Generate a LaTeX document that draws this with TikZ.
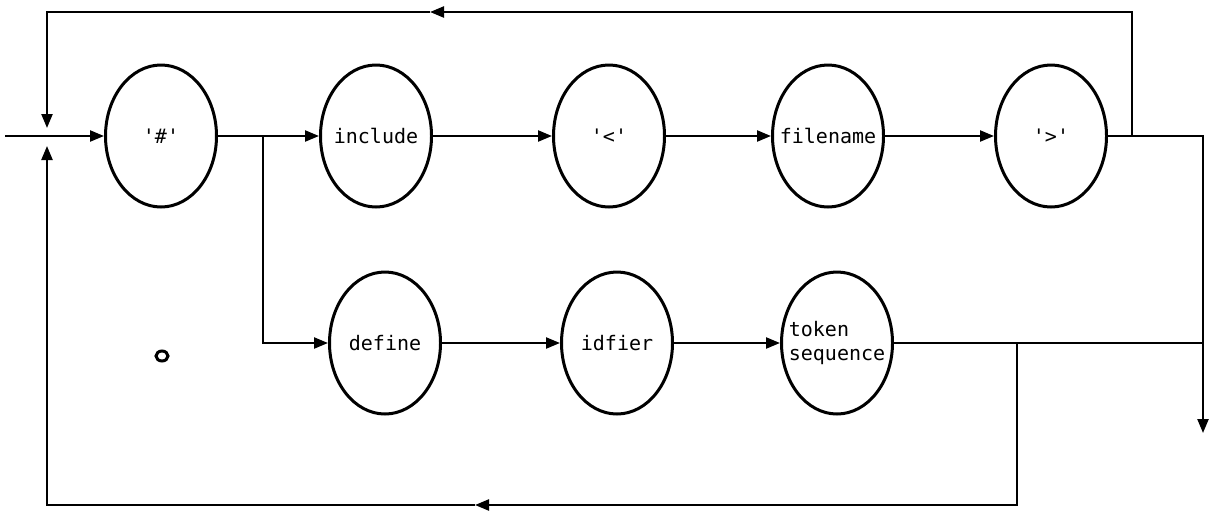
\documentclass[tikz,border=0pt]{standalone}
\usepackage{fontspec}
\newfontfamily\diagfont{DejaVu Sans Mono}
\usetikzlibrary{shapes.geometric,arrows.meta}
\begin{document}
\begin{tikzpicture}[x=1pt,y=-1pt,
  state/.style={draw,ellipse,line width=3pt,minimum width=111pt,minimum height=142pt,inner sep=0pt,
    label={[font=\diagfont\fontsize{20}{24}\selectfont,align=left,inner sep=0pt]center:#1}},
  wire/.style={line width=2.3pt},
  tip/.style={wire,-{Triangle[length=14pt,width=11pt]}}]
\useasboundingbox (0,0) rectangle (1212,512);
% nodes
\node[state={'\#'}] (hash) at (161,136) {};
\node[state={include}] (incl) at (376,136) {};
\node[state={'<'}] (lt)   at (609,136) {};
\node[state={filename}] (fn)   at (828,136) {};
\node[state={'>'}] (gt)   at (1051,136) {};
\node[state={define}] (def)  at (385,343) {};
\node[state={idfier}] (idf)  at (617,343) {};
\node[state={{token\\sequence}}] (tok) at (837,343) {};
% coordinates
\coordinate (in) at (5,136);
\coordinate (jtop) at (47,12);
\coordinate (jtopend) at (47,128);
\coordinate (jbot) at (47,505);
\coordinate (jbotend) at (47,146);
\coordinate (split) at (263,136);
\coordinate (splitdn) at (263,343);
\coordinate (gtout) at (1132,136);
\coordinate (gtup) at (1132,12);
\coordinate (topmid) at (430,12);
\coordinate (rout) at (1203,136);
\coordinate (rend) at (1203,433);
\coordinate (tokout) at (1017,343);
\coordinate (tokdn) at (1017,505);
\coordinate (botmid) at (475,505);
\coordinate (rjoin) at (1203,343);
% main path
\draw[tip] (in) -- (hash.west);
\draw[tip] (hash.east) -- (incl.west);
\draw[tip] (incl.east) -- (lt.west);
\draw[tip] (lt.east) -- (fn.west);
\draw[tip] (fn.east) -- (gt.west);
\draw[tip] (split) -- (splitdn) -- (def.west);
\draw[tip] (def.east) -- (idf.west);
\draw[tip] (idf.east) -- (tok.west);
% exit
\draw[tip] (gt.east) -- (rout) -- (rend);
\draw[wire] (tok.east) -- (rjoin);
% top loop
\draw[tip] (gtout) -- (gtup) -- (topmid);
\draw[tip] (topmid) -- (jtop) -- (jtopend);
% bottom loop
\draw[tip] (tokout) -- (tokdn) -- (botmid);
\draw[tip] (botmid) -- (jbot) -- (jbotend);
% stray mark
\draw[line width=3pt] (162,356) ellipse (6pt and 5pt);
\end{tikzpicture}
\end{document}
